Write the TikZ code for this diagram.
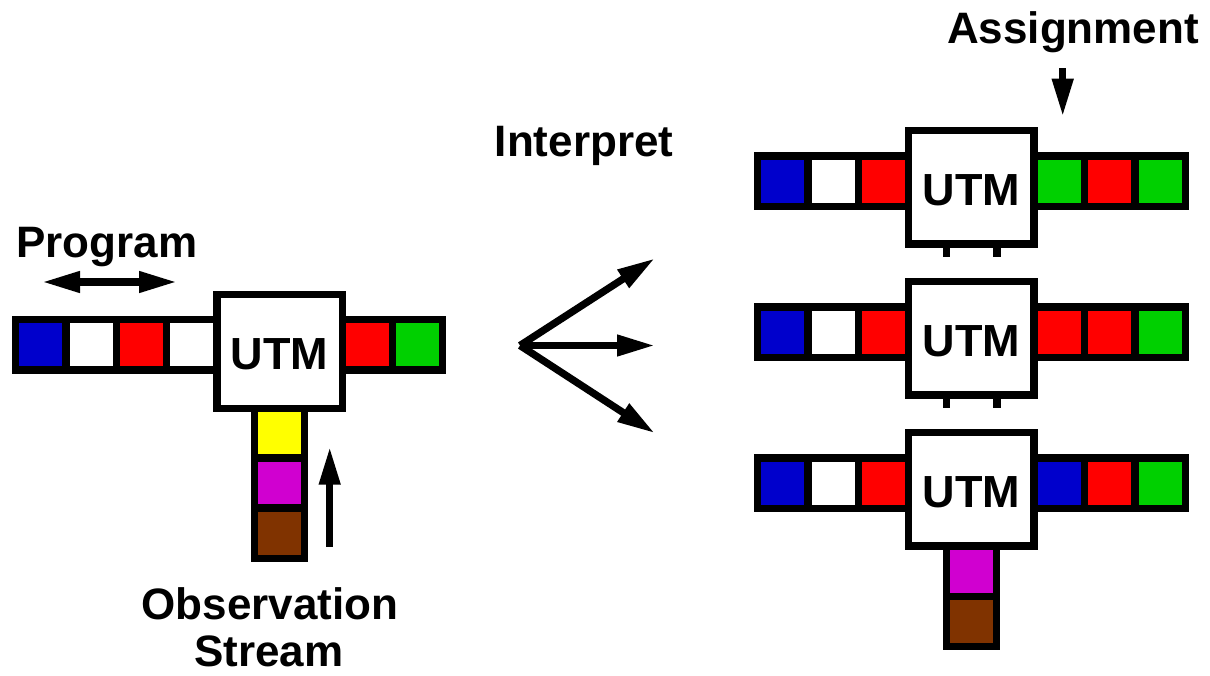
\documentclass[tikz,border=0pt]{standalone}
\usepackage{fontspec}
\setmainfont{Liberation Sans}
\usetikzlibrary{arrows.meta,calc}
\definecolor{ublue}{RGB}{0,0,204}
\definecolor{ured}{RGB}{255,0,0}
\definecolor{ugreen}{RGB}{0,208,0}
\definecolor{uyellow}{RGB}{255,255,0}
\definecolor{umagenta}{RGB}{208,0,208}
\definecolor{ubrown}{RGB}{128,51,0}
\begin{document}
\begin{tikzpicture}[x=1pt,y=-1pt,
  cell/.style={draw, line width=7.3pt, minimum size=50.3pt, inner sep=0pt, outer sep=0pt},
  utm/.style={draw, fill=white, line width=7.3pt, minimum width=125.3pt, minimum height=113.7pt, inner sep=0pt, outer sep=0pt,
    label={[utmtext]center:UTM}},
  utmtext/.style={font=\bfseries\fontsize{45}{50}\selectfont, inner sep=0pt, yshift=-3pt},
  lbl/.style={font=\bfseries\fontsize{44}{50}\selectfont, anchor=base, inner sep=0pt},
  arr/.style={line width=7.3pt, -{Triangle[length=38pt,width=20pt]}},
  darr/.style={line width=7.3pt, {Triangle[length=38pt,width=20pt]}-{Triangle[length=38pt,width=20pt]}},
  stub/.style={line width=7.3pt}
]
\useasboundingbox (0,0) rectangle (1210,676);

% ---------- left machine ----------
\foreach \c [count=\i] in {ublue,white,ured,white}
  \node[cell, fill=\c] (pL\i) at ({15.5+50.375*(\i-0.5)},344.85) {};
\foreach \c [count=\i] in {ured,ugreen}
  \node[cell, fill=\c] (aL\i) at ({342+50.3*(\i-0.5)},344.85) {};
\foreach \c [count=\i] in {uyellow,umagenta,ubrown}
  \node[cell, fill=\c] (oL\i) at (279.5,{408+50*(\i-0.5)}) {};
\node[utm] (utmL) at (279.5,351.3) {};

% ---------- right machines ----------
\foreach \r/\a/\b/\c in {0/ugreen/ured/ugreen, 1/ured/ured/ugreen, 2/ublue/ured/ugreen} {
  \foreach \col [count=\i] in {ublue,white,ured}
    \node[cell, fill=\col] (pR\r-\i) at ({757.7+50.33*(\i-0.5)},{181.15+151*\r}) {};
  \node[cell, fill=\a] (aR\r-1) at ({1034+50.55*0.5},{181.15+151*\r}) {};
  \node[cell, fill=\b] (aR\r-2) at ({1034+50.55*1.5},{181.15+151*\r}) {};
  \node[cell, fill=\c] (aR\r-3) at ({1034+50.55*2.5},{181.15+151*\r}) {};
  \node[utm] (utmR\r) at (971.35,{187.15+151*\r}) {};
}
\foreach \r in {0,1} {
  \draw[stub] ($(utmR\r.south)+(-25.05,0)$) -- ++(0,12.7);
  \draw[stub] ($(utmR\r.south)+(25.65,0)$) -- ++(0,12.7);
}
\foreach \c [count=\i] in {umagenta,ubrown}
  \node[cell, fill=\c] (oR\i) at (971.65,{546+50.3*(\i-0.5)}) {};
\node[utm] at (utmR2) {};

% ---------- labels ----------
\node[lbl] (prog) at (107,258) {Program};
\node[lbl] (interp) at (584,157) {Interpret};
\node[lbl] (assign) at (1073,44) {Assignment};
\node[lbl] (obs) at (270,619) {Observation};
\node[lbl] (stream) at (269,666.5) {Stream};

% ---------- arrows ----------
\coordinate (pa) at (42,282);
\coordinate (pb) at (177,282);
\draw[darr] (pa) -- (pb);

\coordinate (ob1) at (329.7,546.7);
\coordinate (ob2) at (329.7,446.7);
\draw[arr] (ob1) -- (ob2);

\coordinate (as1) at (1062.7,68.3);
\coordinate (as2) at (1062.7,116.7);
\draw[arr] (as1) -- (as2);

\coordinate (fork) at (520,345.5);
\coordinate (tup) at (655,258.3);
\coordinate (tmid) at (655,345.5);
\coordinate (tdown) at (655,433.3);
\draw[arr] (fork) -- (tup);
\draw[arr] (fork) -- (tmid);
\draw[arr] (fork) -- (tdown);
\end{tikzpicture}
\end{document}
